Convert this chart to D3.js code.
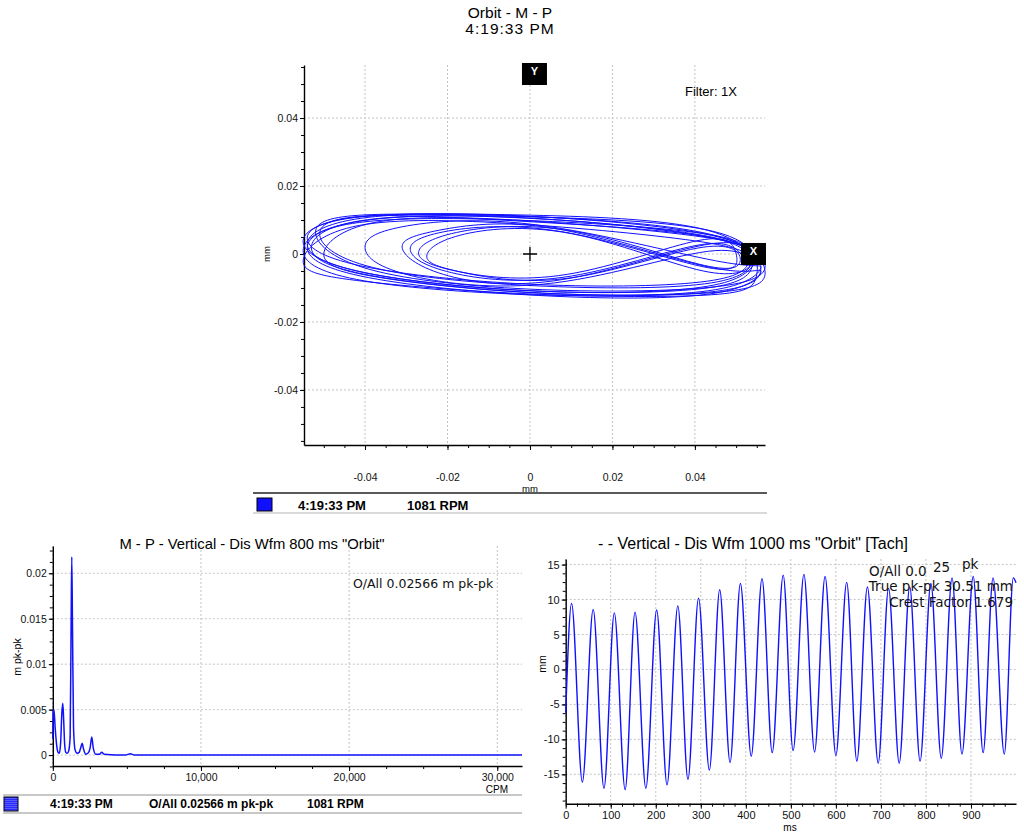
<!DOCTYPE html>
<html>
<head>
<meta charset="utf-8">
<script src="https://cdn.jsdelivr.net/npm/d3@7"></script>
<style>
  body { margin: 0; background: #fff; }
  svg { display: block; font-family: "Liberation Sans", Arial, sans-serif; }
  .grid line { stroke: #c4c4c4; stroke-dasharray: 2,2; stroke-width: 1; }
  .axis path, .axis line { stroke: #000; }
  .axis text { fill: #111; }
  .note { font-family: "DejaVu Sans", Verdana, sans-serif; fill: #111; }
</style>
</head>
<body>
<svg id="chart" width="1024" height="832"></svg>
<script>
// ---------- data ----------
const orbitTitle = ['Orbit - M - P', '4:19:33 PM'];
const orbitTicks = [-0.04, -0.02, 0, 0.02, 0.04];
const orbitTime = '4:19:33 PM';
const orbitRpm = '1081 RPM';
// 1X orbit, 8 samples per revolution
const orbitX = [
  0.055, 0.043, 0.003, -0.040, -0.054, -0.041, -0.002, 0.044,
  0.056, 0.045, 0.001, -0.042, -0.055, -0.043, -0.004, 0.042,
  0.054, 0.044, 0.004, -0.038, -0.051, -0.039, 0.000, 0.045,
  0.052, 0.043, 0.010, -0.019, -0.029, -0.021, 0.008, 0.043,
  0.050, 0.041, 0.009, -0.018, -0.027, -0.019, 0.009, 0.041,
  0.051, 0.042, 0.010, -0.016, -0.025, -0.017, 0.010, 0.042,
  0.054, 0.044, 0.008, -0.021, -0.031, -0.022, 0.006, 0.044,
  0.056, 0.045, 0.002, -0.041, -0.054, -0.042, -0.004, 0.043,
  0.057, 0.046, 0.003, -0.039, -0.052, -0.040, -0.002, 0.045,
  0.055, 0.044, 0.001, -0.042, -0.055, -0.043, -0.005, 0.042,
  0.053, 0.043, 0.002, -0.041, -0.054, -0.041, -0.003, 0.043,
  0.055, 0.045, 0.006, -0.030, -0.040, -0.031, 0.002, 0.045,
  0.056, 0.045, 0.003, -0.040, -0.053, -0.041, -0.002, 0.044,
  0.054, 0.043, 0.000, -0.042, -0.055, -0.042, -0.004, 0.043,
  0.057, 0.046, 0.004, -0.037, -0.050, -0.038, -0.001, 0.046,
  0.055
];
const orbitY = [
  -0.002, -0.0095, -0.0110, -0.0055, 0.003, 0.0105, 0.0112, 0.0055,
  -0.004, -0.0110, -0.0120, -0.0075, 0.001, 0.0090, 0.0100, 0.0060,
  -0.001, -0.0085, -0.0095, -0.0040, 0.006, 0.0112, 0.0095, 0.0045,
  -0.001, 0.0030, -0.0065, -0.0055, 0.001, 0.0065, 0.0065, -0.0040,
  0.000, 0.0040, -0.0060, -0.0050, 0.000, 0.0060, 0.0070, -0.0030,
  -0.002, 0.0020, -0.0070, -0.0055, -0.001, 0.0055, 0.0060, -0.0050,
  -0.002, 0.0030, -0.0075, -0.0060, 0.002, 0.0070, 0.0075, -0.0040,
  -0.005, -0.0115, -0.0122, -0.0065, 0.002, 0.0095, 0.0108, 0.0050,
  -0.003, -0.0095, -0.0105, -0.0045, 0.0065, 0.0115, 0.0110, 0.0065,
  -0.006, -0.0120, -0.0118, -0.0078, -0.002, 0.0080, 0.0090, 0.0035,
  -0.002, -0.0080, -0.0090, -0.0035, 0.005, 0.0110, 0.0115, 0.0070,
  -0.003, 0.0010, -0.0085, -0.0060, 0.002, 0.0080, 0.0085, -0.0020,
  -0.004, -0.0105, -0.0115, -0.0060, 0.002, 0.0098, 0.0106, 0.0050,
  -0.003, -0.0100, -0.0108, -0.0050, 0.004, 0.0108, 0.0112, 0.0060,
  -0.005, -0.0112, -0.0116, -0.0068, 0.000, 0.0092, 0.0098, 0.0042,
  -0.002
];

const specTitle = 'M - P - Vertical - Dis Wfm 800 ms "Orbit"';
const specOverall = 'O/All 0.02566 m pk-pk';
const specXTicks = [0, 10000, 20000, 30000];
const specYTicks = [0, 0.005, 0.01, 0.015, 0.02];
const specCpm = [0, 30, 80, 160, 260, 360, 440, 530, 610, 674, 730, 800, 880, 980, 1080,
  1170, 1235, 1281, 1330, 1400, 1500, 1640, 1780, 1900, 1982, 2070, 2220, 2370, 2520,
  2630, 2730, 2900, 3150, 3304, 3460, 4900, 5240, 5500, 31670];
const specAmp = [0.0018, 0.0048, 0.0050, 0.0030, 0.0011, 0.0003, 0.0002, 0.0014, 0.0046,
  0.0057, 0.0040, 0.0012, 0.0003, 0.0002, 0.0005, 0.0020, 0.0140, 0.0218, 0.0140, 0.0030,
  0.0006, 0.0002, 0.0003, 0.0009, 0.0013, 0.0007, 0.0001, 0.0002, 0.0008, 0.0020, 0.0008,
  0.0001, 0.0001, 0.0003, 0.0001, 0.0000, 0.00015, 0.0000, 0.0000];

const wfmTitle = '-  - Vertical - Dis Wfm 1000 ms "Orbit" [Tach]';
const wfmXTicks = [0, 100, 200, 300, 400, 500, 600, 700, 800, 900];
const wfmYTicks = [-15, -10, -5, 0, 5, 10, 15];
const wfmTime = [0, 13, 37, 61, 85, 108, 132, 154, 178, 202, 225, 249, 271.5, 295, 319,
  342, 365, 388, 412, 436, 458.6, 483, 505, 529, 552.7, 576, 600, 624, 646.6, 670, 694,
  717, 740.6, 764, 787, 811, 834, 858, 880, 905, 927, 949, 974, 994, 1000];
const wfmAmp = [-6.2, 9.45, -16.1, 8.6, -17.0, 8.1, -17.2, 8.2, -17.0, 8.5, -16.5, 9.1,
  -15.7, 10.2, -14.4, 11.4, -13.3, 12.3, -12.4, 13.0, -11.9, 13.5, -11.6, 13.6, -11.8,
  13.3, -12.3, 12.45, -13.1, 11.8, -13.4, 11.6, -13.4, 11.8, -13.1, 12.3, -12.7, 13.1,
  -12.1, 13.3, -11.9, 13.1, -12.1, 13.1, 12.4];

const blue = '#1010ff';
const svg = d3.select('#chart');
const num = d => d3.format('~g')(d).replace('\u2212', '-');

// draw dashed grid, axes with minor ticks
function frame(g, x, y, xt, yt, xMinor, yMinor, o) {
  const [x0, x1] = x.range();
  const [y0, y1] = y.range(); // y0 bottom, y1 top
  const grid = g.append('g').attr('class', 'grid');
  grid.selectAll('.gx').data(xt).enter().append('line')
    .attr('x1', d => x(d)).attr('x2', d => x(d))
    .attr('y1', y1).attr('y2', y0);
  grid.selectAll('.gy').data(yt).enter().append('line')
    .attr('x1', x0).attr('x2', x1)
    .attr('y1', d => y(d)).attr('y2', d => y(d));

  g.append('g').attr('class', 'axis')
    .attr('transform', `translate(0,${y0})`)
    .call(d3.axisBottom(x).tickValues(xMinor).tickSize(3).tickFormat(''))
    .call(a => a.select('.domain').remove());
  g.append('g').attr('class', 'axis')
    .attr('transform', `translate(${x0},0)`)
    .call(d3.axisLeft(y).tickValues(yMinor).tickSize(3).tickFormat(''))
    .call(a => a.select('.domain').remove());

  const xa = g.append('g').attr('class', 'axis')
    .attr('transform', `translate(0,${y0})`)
    .call(d3.axisBottom(x).tickValues(xt).tickSize(5).tickSizeOuter(0)
      .tickPadding(o.xPad).tickFormat(o.xFmt))
    .attr('font-size', o.fs).attr('font-family', null);
  xa.select('.domain').attr('stroke-width', 1.4);
  const ya = g.append('g').attr('class', 'axis')
    .attr('transform', `translate(${x0},0)`)
    .call(d3.axisLeft(y).tickValues(yt).tickSize(4).tickSizeOuter(0)
      .tickPadding(2).tickFormat(o.yFmt))
    .attr('font-size', o.fs).attr('font-family', null);
  ya.select('.domain').attr('stroke-width', 1.4);
  return { xa, ya };
}

// ---------- orbit ----------
const ox = d3.scaleLinear().domain([-0.0548, 0.0570]).range([304, 765]);
const oy = d3.scaleLinear().domain([-0.0562, 0.0556]).range([445, 65]);
const og = svg.append('g');

og.selectAll('.title').data(orbitTitle).enter().append('text')
  .attr('x', 510).attr('y', (d, i) => 18 + i * 16)
  .attr('text-anchor', 'middle').attr('font-size', 15.5)
  .attr('letter-spacing', (d, i) => i ? 1 : 0).text(d => d);

frame(og, ox, oy, orbitTicks, orbitTicks,
  d3.range(-0.05, 0.0551, 0.005), d3.range(-0.055, 0.0551, 0.005),
  { xPad: 24, fs: 10.5, xFmt: num, yFmt: num });

og.append('text').attr('transform', `translate(270,${oy(0)}) rotate(-90)`)
  .attr('text-anchor', 'middle').attr('font-size', 9.5).text('mm');
og.append('text').attr('x', ox(0)).attr('y', 492)
  .attr('text-anchor', 'middle').attr('font-size', 9.5).text('mm');
og.append('text').attr('x', 685).attr('y', 96).attr('font-size', 13).text('Filter: 1X');

const orbitPts = orbitX.map((v, i) => [v, orbitY[i]]);
og.append('path').datum(orbitPts)
  .attr('fill', 'none').attr('stroke', blue).attr('stroke-width', 1)
  .attr('d', d3.line().x(d => ox(d[0])).y(d => oy(d[1])).curve(d3.curveNatural));

// centre cross
og.append('path')
  .attr('d', `M${ox(0) - 7},${oy(0)}H${ox(0) + 7}M${ox(0)},${oy(0) - 7}V${oy(0) + 7}`)
  .attr('stroke', '#000').attr('stroke-width', 1.3);

// probe markers
og.append('rect').attr('x', ox(0) - 8).attr('y', 63).attr('width', 25).attr('height', 22).attr('fill', '#000');
og.append('text').attr('x', ox(0) + 4.5).attr('y', 75).attr('text-anchor', 'middle')
  .attr('fill', '#fff').attr('font-weight', 'bold').attr('font-size', 11).text('Y');
og.append('rect').attr('x', 741).attr('y', oy(0) - 11).attr('width', 25).attr('height', 22).attr('fill', '#000');
og.append('text').attr('x', 753.5).attr('y', oy(0) + 1).attr('text-anchor', 'middle')
  .attr('fill', '#fff').attr('font-weight', 'bold').attr('font-size', 11).text('X');

// legend
og.append('line').attr('x1', 253).attr('x2', 767).attr('y1', 493).attr('y2', 493)
  .attr('stroke', '#222').attr('stroke-width', 1.5);
og.append('line').attr('x1', 253).attr('x2', 767).attr('y1', 513).attr('y2', 513)
  .attr('stroke', '#ccc').attr('stroke-width', 1.5);
og.append('rect').attr('x', 257).attr('y', 498).attr('width', 15).attr('height', 13)
  .attr('fill', blue).attr('stroke', '#000').attr('stroke-width', 1);
og.append('text').attr('x', 298).attr('y', 509.5).attr('font-weight', 'bold').attr('font-size', 13).text(orbitTime);
og.append('text').attr('x', 407).attr('y', 509.5).attr('font-weight', 'bold').attr('font-size', 13).text(orbitRpm);

// ---------- spectrum ----------
const sx = d3.scaleLinear().domain([0, 31670]).range([52.8, 522]);
const sy = d3.scaleLinear().domain([-0.0012, 0.023]).range([766, 546]);
const sg = svg.append('g');

sg.append('text').attr('x', 252).attr('y', 549).attr('text-anchor', 'middle')
  .attr('font-size', 14.8).text(specTitle);
frame(sg, sx, sy, specXTicks, specYTicks,
  d3.range(0, 31670, 2500), d3.range(-0.00125, 0.023, 0.00125),
  { xPad: 3, fs: 10.5, xFmt: d3.format(','), yFmt: num });
sg.append('text').attr('transform', 'translate(21,657) rotate(-90)')
  .attr('text-anchor', 'middle').attr('font-size', 10.5).text('m pk-pk');
sg.append('text').attr('x', 508).attr('y', 793).attr('text-anchor', 'end')
  .attr('font-size', 10).text('CPM');
sg.append('text').attr('class', 'note').attr('x', 353).attr('y', 588)
  .attr('font-size', 12.5).text(specOverall);

sg.append('path').datum(specCpm.map((c, i) => [c, specAmp[i]]))
  .attr('fill', 'none').attr('stroke', blue).attr('stroke-width', 1.5)
  .attr('d', d3.line().x(d => sx(d[0])).y(d => sy(d[1])).curve(d3.curveMonotoneX));

// legend
sg.append('line').attr('x1', 3).attr('x2', 522).attr('y1', 795).attr('y2', 795)
  .attr('stroke', '#c8c8c8').attr('stroke-width', 2);
sg.append('line').attr('x1', 3).attr('x2', 522).attr('y1', 813).attr('y2', 813)
  .attr('stroke', '#c8c8c8').attr('stroke-width', 2);
const hatch = svg.append('defs').append('pattern').attr('id', 'hatch')
  .attr('patternUnits', 'userSpaceOnUse').attr('width', 4).attr('height', 2);
hatch.append('rect').attr('width', 4).attr('height', 2).attr('fill', '#2a2aff');
hatch.append('rect').attr('width', 4).attr('height', 1).attr('fill', '#5a5aff');
sg.append('rect').attr('x', 4).attr('y', 797).attr('width', 14).attr('height', 14)
  .attr('fill', 'url(#hatch)').attr('stroke', '#000').attr('stroke-width', 1);
sg.append('text').attr('x', 50).attr('y', 807.5).attr('font-weight', 'bold').attr('font-size', 12).text(orbitTime);
sg.append('text').attr('x', 149).attr('y', 807.5).attr('font-weight', 'bold').attr('font-size', 12).text(specOverall);
sg.append('text').attr('x', 307).attr('y', 807.5).attr('font-weight', 'bold').attr('font-size', 12).text(orbitRpm);

// ---------- waveform ----------
const wx = d3.scaleLinear().domain([0, 1000]).range([565.7, 1016]);
const wy = d3.scaleLinear().domain([-19.2, 15.8]).range([803.7, 559]);
const wg = svg.append('g');

wg.append('text').attr('x', 753).attr('y', 549).attr('text-anchor', 'middle')
  .attr('font-size', 16).text(wfmTitle);
frame(wg, wx, wy, wfmXTicks, wfmYTicks,
  d3.range(0, 1000, 25), d3.range(-18.75, 15.8, 1.25),
  { xPad: 3, fs: 11, xFmt: d => d, yFmt: d => d });
wg.append('text').attr('transform', 'translate(546,664) rotate(-90)')
  .attr('text-anchor', 'middle').attr('font-size', 10.5).text('mm');
wg.append('text').attr('x', 790).attr('y', 831).attr('text-anchor', 'middle')
  .attr('font-size', 10).text('ms');

wg.append('path').datum(wfmTime.map((t, i) => [t, wfmAmp[i]]))
  .attr('fill', 'none').attr('stroke', blue).attr('stroke-width', 1.4)
  .attr('d', d3.line().x(d => wx(d[0])).y(d => wy(d[1])).curve(d3.curveMonotoneX));

// overlay notes
wg.append('text').attr('class', 'note').attr('x', 869).attr('y', 576).attr('font-size', 13.5).text('O/All 0.0');
wg.append('text').attr('class', 'note').attr('x', 933).attr('y', 572).attr('font-size', 13.5).text('25');
wg.append('text').attr('class', 'note').attr('x', 962).attr('y', 569).attr('font-size', 13.5).text('pk');
wg.append('text').attr('class', 'note').attr('x', 1013).attr('y', 591).attr('text-anchor', 'end')
  .attr('font-size', 13.5).text('True pk-pk 30.51 mm');
wg.append('text').attr('class', 'note').attr('x', 1013).attr('y', 607).attr('text-anchor', 'end')
  .attr('font-size', 13.5).text('Crest Factor 1.679');
</script>
</body>
</html>
